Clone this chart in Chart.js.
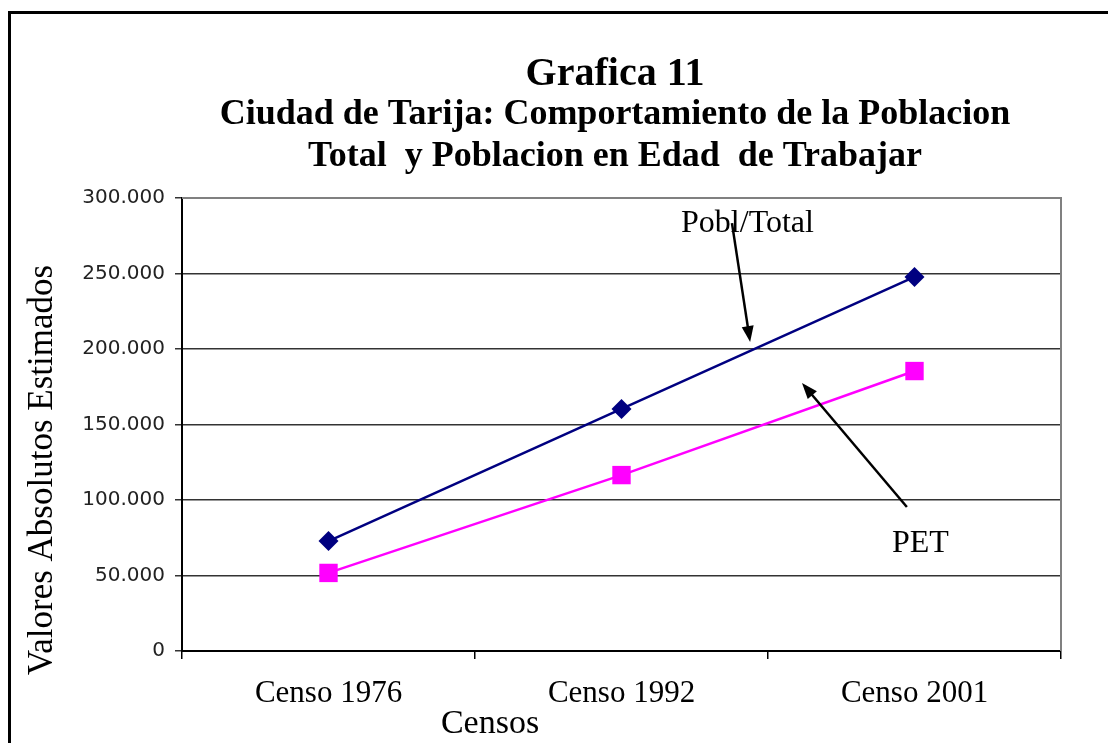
<!DOCTYPE html>
<html>
<head>
<meta charset="utf-8">
<script src="https://cdn.jsdelivr.net/npm/chart.js@4/dist/chart.umd.min.js"></script>
<style>
  html, body { margin: 0; padding: 0; background: #fff; }
  #wrap { width: 1108px; height: 743px; position: relative; }
</style>
</head>
<body>
<div id="wrap"><canvas id="c" width="1108" height="743"></canvas></div>
<script>
// ─── Data ────────────────────────────────────────────────────────
const censos = ['Censo 1976', 'Censo 1992', 'Censo 2001'];
const poblTotal = [72800, 160300, 247700];
const pet = [51700, 116500, 185400];
const yTicks = [0, 50000, 100000, 150000, 200000, 250000, 300000];

const titleLines = ['Grafica 11', 'Ciudad de Tarija: Comportamiento de la Poblacion', 'Total  y Poblacion en Edad  de Trabajar'];
const xTitle = 'Censos';
const yTitle = 'Valores Absolutos Estimados';

// callouts in data space: [label, labelX, labelY, fromX, fromY, toX, toY]
const callouts = [
  ['Pobl/Total', 1.43, 277500, 1.377, 283400, 1.439, 204600],
  ['PET', 2.02, 65600, 1.974, 95400, 1.616, 177500]
];

const SERIF = '"Liberation Serif", "Times New Roman", serif';

function fmt(n) {
  return String(n).replace(/\B(?=(\d{3})+(?!\d))/g, '.');
}

// ─── Extra drawing (frame, titles, callouts) ─────────────────────
const decor = {
  id: 'decor',
  beforeDraw(chart) {
    const ctx = chart.ctx;
    ctx.save();
    ctx.fillStyle = '#fff';
    ctx.fillRect(0, 0, chart.width, chart.height);
    ctx.restore();
  },
  afterDraw(chart) {
    const ctx = chart.ctx;
    const a = chart.chartArea;
    const xs = chart.scales.x, ys = chart.scales.y;
    ctx.save();

    // outer frame
    ctx.strokeStyle = '#000';
    ctx.lineWidth = 3;
    ctx.beginPath();
    ctx.moveTo(1108, 12.5);
    ctx.lineTo(9.5, 12.5);
    ctx.lineTo(9.5, 743);
    ctx.stroke();

    // plot area top / right border
    ctx.strokeStyle = '#808080';
    ctx.lineWidth = 2;
    ctx.beginPath();
    ctx.moveTo(a.left, a.top);
    ctx.lineTo(a.right, a.top);
    ctx.lineTo(a.right, a.bottom);
    ctx.stroke();

    // titles
    const cx = 615;
    ctx.fillStyle = '#000';
    ctx.textAlign = 'center';
    ctx.textBaseline = 'alphabetic';
    ctx.font = 'bold 40px ' + SERIF;
    ctx.fillText(titleLines[0], cx, 85);
    ctx.font = 'bold 36px ' + SERIF;
    ctx.fillText(titleLines[1], cx, 124);
    ctx.fillText(titleLines[2], cx, 166);

    // axis titles
    ctx.font = '34px ' + SERIF;
    ctx.fillText(xTitle, 490, 733);
    ctx.save();
    ctx.translate(52, 470);
    ctx.rotate(-Math.PI / 2);
    ctx.font = '35px ' + SERIF;
    ctx.fillText(yTitle, 0, 0);
    ctx.restore();

    // callouts
    ctx.font = '32px ' + SERIF;
    callouts.forEach(([label, lx, ly, fx, fy, tx, ty]) => {
      const px = v => xs.getPixelForValue(v);
      const x0 = px(fx), y0 = ys.getPixelForValue(fy);
      const x1 = px(tx), y1 = ys.getPixelForValue(ty);
      ctx.fillStyle = '#000';
      ctx.fillText(label, px(lx), ys.getPixelForValue(ly));
      const ang = Math.atan2(y1 - y0, x1 - x0);
      const head = 16, half = 6;
      ctx.strokeStyle = '#000';
      ctx.lineWidth = 2.5;
      ctx.beginPath();
      ctx.moveTo(x0, y0);
      ctx.lineTo(x1 - Math.cos(ang) * head * 0.8, y1 - Math.sin(ang) * head * 0.8);
      ctx.stroke();
      ctx.beginPath();
      ctx.moveTo(x1, y1);
      ctx.lineTo(x1 - Math.cos(ang) * head - Math.sin(ang) * half, y1 - Math.sin(ang) * head + Math.cos(ang) * half);
      ctx.lineTo(x1 - Math.cos(ang) * head + Math.sin(ang) * half, y1 - Math.sin(ang) * head - Math.cos(ang) * half);
      ctx.closePath();
      ctx.fill();
    });
    ctx.restore();
  }
};

// ─── Chart ───────────────────────────────────────────────────────
new Chart(document.getElementById('c'), {
  type: 'line',
  data: {
    labels: censos,
    datasets: [
      { label: 'Pobl/Total', data: poblTotal, borderColor: '#000080', backgroundColor: '#000080',
        borderWidth: 2.5, pointStyle: 'rectRot', pointRadius: 10, pointBorderWidth: 0, tension: 0 },
      { label: 'PET', data: pet, borderColor: '#FF00FF', backgroundColor: '#FF00FF',
        borderWidth: 2.5, pointStyle: 'rect', pointRadius: 13, pointBorderWidth: 0, tension: 0 }
    ]
  },
  options: {
    responsive: false,
    animation: false,
    layout: { padding: { left: 0, right: 47, top: 198, bottom: 0 } },
    plugins: { legend: { display: false }, title: { display: false }, tooltip: { enabled: false } },
    scales: {
      x: {
        offset: true,
        grid: { display: true, offset: true, drawOnChartArea: false, drawTicks: true, tickLength: 8, color: '#000', lineWidth: 1.5 },
        border: { display: true, color: '#000', width: 2 },
        ticks: { color: '#000', padding: 16, font: { family: SERIF, size: 31 } },
        afterFit: s => { s.height = 92; }
      },
      y: {
        min: 0, max: 300000,
        afterBuildTicks: s => { s.ticks = yTicks.map(v => ({ value: v })); },
        grid: { color: '#333', lineWidth: 1.5, tickLength: 7, drawTicks: true },
        border: { display: true, color: '#000', width: 2 },
        ticks: { color: '#222', padding: 10, font: { family: '"DejaVu Sans", sans-serif', size: 20 }, callback: v => fmt(v) },
        afterFit: s => { s.width = 182; }
      }
    }
  },
  plugins: [decor]
});
</script>
</body>
</html>
